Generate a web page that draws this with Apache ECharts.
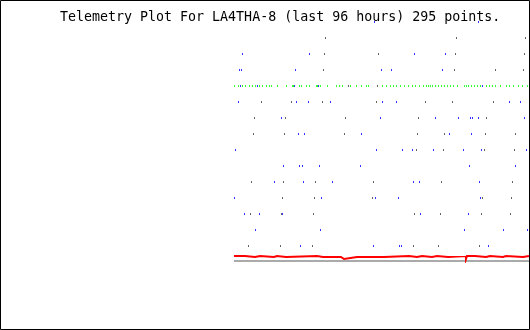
<!DOCTYPE html>
<html><head><meta charset="utf-8">
<script src="https://cdn.jsdelivr.net/npm/echarts@6/dist/echarts.min.js"></script>
<style>html,body{margin:0;padding:0;background:#fff}#c{width:530px;height:330px}</style>
</head><body><div id="c"></div>
<script>
// x: sample column (0 = first sample), y: telemetry level
var titleText = 'Telemetry Plot For LA4THA-8 (last 96 hours) 295 points.';
// blue channel: sample columns per level (absolute column)
var blueRows = {
  240:[374,478],
  208:[242,309,414,445],
  192:[239,241,295,381,391,442],
  176:[240,257,294,318,482],
  160:[238,296,308,330,382,396,509,520],
  144:[281,380,435,458,470,472,478,524],
  128:[298,304,361,449,471],
  112:[235,376,402,412,433,463,481,526],
  96:[283,299,302,319,360,469,515],
  80:[274,303,332,413,419,479],
  64:[234,321,375,398,480],
  48:[244,259,282,420,468],
  32:[255,320,464,503,527],
  16:[300,373,399,401,488]
};
var greyRows = {
  224:[325,456,525],
  208:[324,378,455,524],
  192:[323,454,495,523],
  176:[348,377],
  160:[261,291,322,376,425,452,493],
  144:[254,285,345,418,486],
  128:[253,284,344,417,444,485,515],
  112:[416,443,484,514],
  80:[251,283,315,373,441,512],
  64:[282,314,372,482,511],
  48:[250,281,313,414,440,481,510],
  16:[248,280,312,413,438,479]
};
var greenLevel = 176;
var greenCols = [234,238,242,245,249,252,255,259,262,266,269,271,277,286,292,293,299,301,306,309,316,317,320,327,336,339,342,350,356,361,366,368,382,386,390,393,396,400,404,408,412,415,419,423,426,428,430,432,435,438,441,444,447,450,453,457,464,466,468,471,474,477,480,486,489,492,495,500,506,509,513,518,522,527];
// red channel: change points (column) and level
var redCols   = [234,245,255,260,274,277,286,317,323,324,327,328,338,339,341,342,343,344,357,358,362,363,372,373,377,378,384,409,417,422,432,437,448,466,467,475,486,490,503,506,523,529];
var redLevels = [6,  5,  6,  5,  6,  5,  6,  5,  3,  5,  3,  5,  3,  5,  3,  5,  3,  5,  3,  5,  3,  5,  3,  5,  3,  5,  6,  5,  6,  5,  6,  5,  6,  3,  6,  5,  6,  5,  6,  5,  6,  6];
// grey baseline channel
var baseCols = [234,529];
var baseLevels = [1,1];
var firstCol = 234;

function pts(rows){var o=[];for(var k in rows){rows[k].forEach(function(c){o.push([c-firstCol,+k]);});}return o;}
var blueData = pts(blueRows), greyData = pts(greyRows);
var greenData = greenCols.map(function(c){return [c-firstCol,greenLevel];});
var redData = redCols.map(function(c,i){return [c-firstCol-0.5,redLevels[i]];});
var baseData = baseCols.map(function(c,i){return [c-firstCol-0.5,baseLevels[i]];});

var chart = echarts.init(document.getElementById('c'),null,{renderer:'canvas'});
var hidden = {show:false};
chart.setOption({
  animation:false,
  backgroundColor:'#fff',
  title:{text:titleText,left:60,top:11,padding:0,textStyle:{fontFamily:'DejaVu Sans Mono',fontSize:13.3,fontWeight:'normal',color:'#000'}},
  grid:{left:234,top:12,width:295,height:250},
  xAxis:{type:'value',min:-0.5,max:294.5,axisLine:hidden,axisTick:hidden,axisLabel:hidden,splitLine:hidden},
  yAxis:{type:'value',min:0,max:250,axisLine:hidden,axisTick:hidden,axisLabel:hidden,splitLine:hidden},
  graphic:[{type:'rect',shape:{x:0.5,y:0.5,width:529,height:329},style:{fill:null,stroke:'#000',lineWidth:1},z:100}],
  series:[
    {type:'line',data:baseData,step:'end',symbol:'none',lineStyle:{color:'#aaaaaa',width:2,cap:'butt',join:'miter'},silent:true,z:3},
    {type:'line',data:redData,step:'end',symbol:'none',lineStyle:{color:'#ff0000',width:2,cap:'butt',join:'miter'},silent:true,z:4},
    {type:'scatter',data:greenData,symbol:'rect',symbolSize:[1,2],itemStyle:{color:'#00ff00'},silent:true,z:5},
    {type:'scatter',data:greyData,symbol:'rect',symbolSize:[1,2],itemStyle:{color:'#404040'},silent:true,z:6},
    {type:'scatter',data:blueData,symbol:'rect',symbolSize:[1,2],itemStyle:{color:'#0000ff'},silent:true,z:10}
  ]
});
</script></body></html>
